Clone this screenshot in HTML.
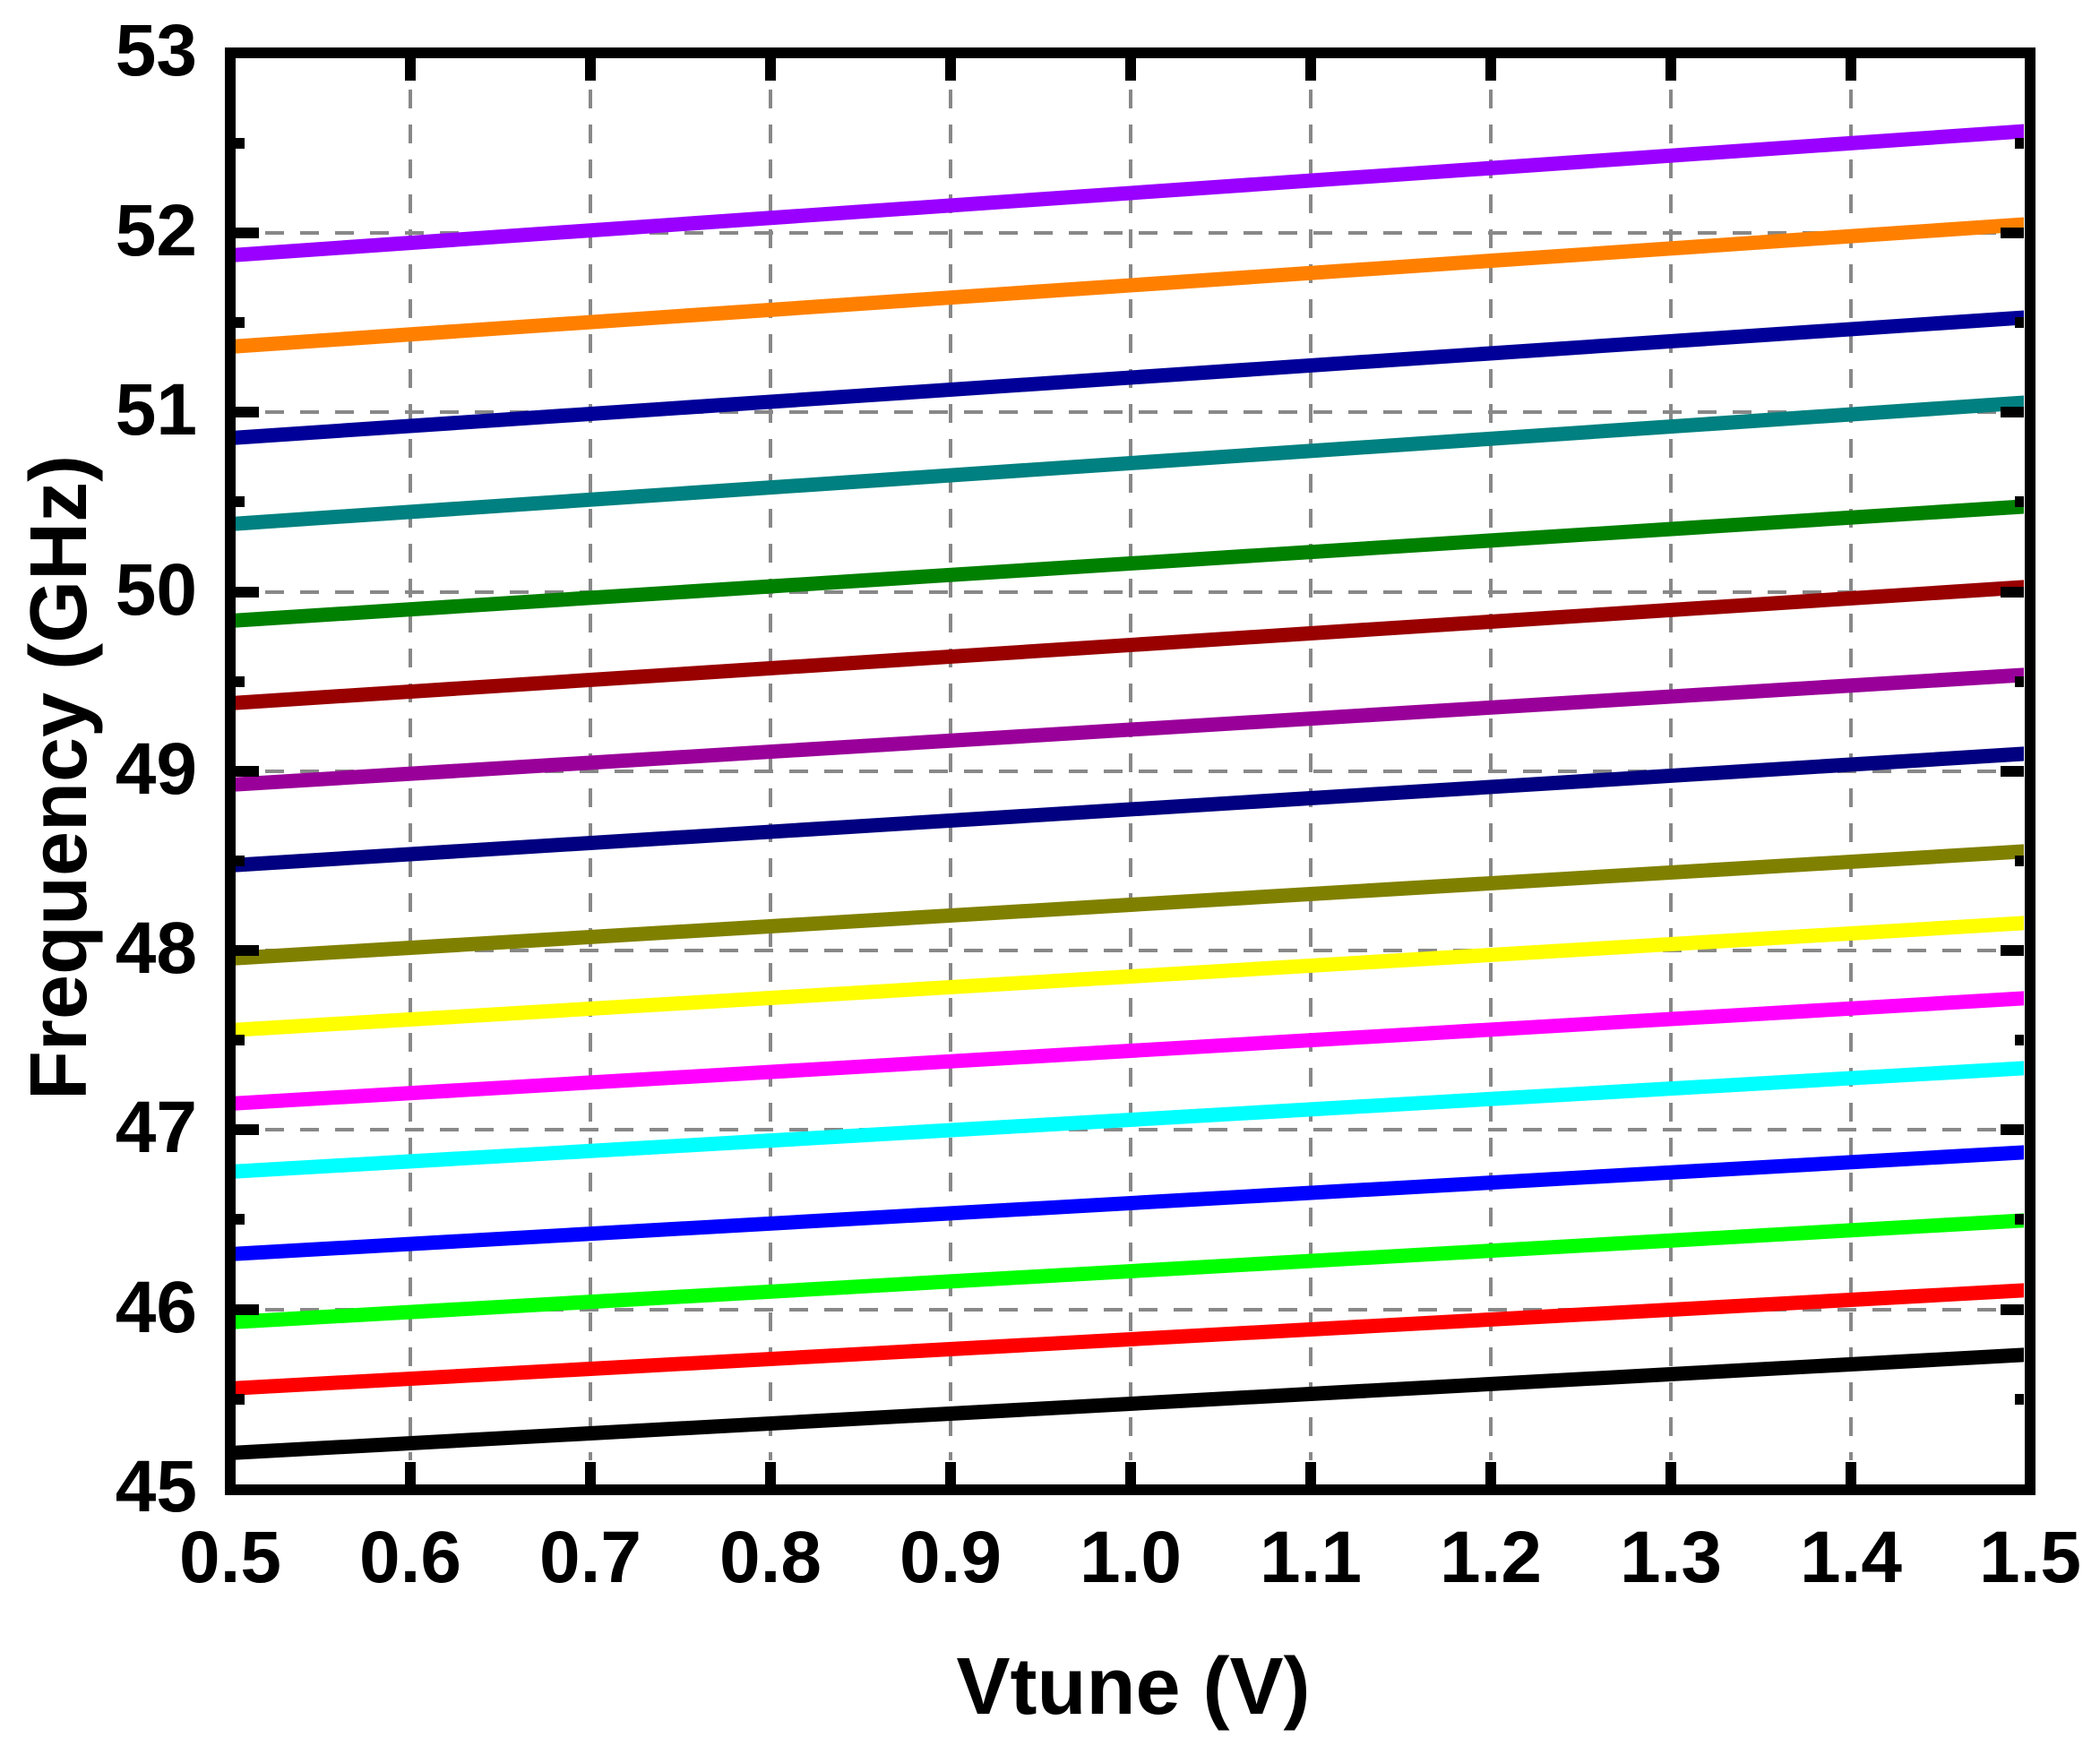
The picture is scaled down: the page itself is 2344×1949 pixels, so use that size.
<!DOCTYPE html>
<html><head><meta charset="utf-8"><style>
html,body{margin:0;padding:0;background:#fff;}
svg{display:block;}
text{font-family:"Liberation Sans",Arial,sans-serif;font-weight:bold;fill:#000;}
</style></head><body>
<svg width="2344" height="1949" viewBox="0 0 2344 1949" xmlns="http://www.w3.org/2000/svg">
<defs><clipPath id="c"><rect x="263" y="65" width="1996" height="1592"/></clipPath></defs>
<g stroke="#888" stroke-width="4" stroke-dasharray="21,18">
<line x1="458" y1="100" x2="458" y2="1630"/><line x1="659" y1="100" x2="659" y2="1630"/><line x1="860" y1="100" x2="860" y2="1630"/><line x1="1061" y1="100" x2="1061" y2="1630"/><line x1="1262" y1="100" x2="1262" y2="1630"/><line x1="1463" y1="100" x2="1463" y2="1630"/><line x1="1664" y1="100" x2="1664" y2="1630"/><line x1="1865" y1="100" x2="1865" y2="1630"/><line x1="2066" y1="100" x2="2066" y2="1630"/>
<line x1="296" y1="260" x2="2230" y2="260"/><line x1="296" y1="460" x2="2230" y2="460"/><line x1="296" y1="661" x2="2230" y2="661"/><line x1="296" y1="861" x2="2230" y2="861"/><line x1="296" y1="1061" x2="2230" y2="1061"/><line x1="296" y1="1261" x2="2230" y2="1261"/><line x1="296" y1="1462" x2="2230" y2="1462"/>
</g>
<g clip-path="url(#c)" stroke-width="16" fill="none">
<line x1="257" y1="285" x2="2266" y2="146" stroke="#9900ff"/>
<line x1="257" y1="387" x2="2266" y2="250" stroke="#ff8000"/>
<line x1="257" y1="489" x2="2266" y2="354" stroke="#000099"/>
<line x1="257" y1="585" x2="2266" y2="449" stroke="#008080"/>
<line x1="257" y1="693" x2="2266" y2="565" stroke="#008000"/>
<line x1="257" y1="785" x2="2266" y2="655" stroke="#990000"/>
<line x1="257" y1="876" x2="2266" y2="753" stroke="#990099"/>
<line x1="257" y1="966" x2="2266" y2="841" stroke="#000080"/>
<line x1="257" y1="1070" x2="2266" y2="950" stroke="#808000"/>
<line x1="257" y1="1150" x2="2266" y2="1030" stroke="#ffff00"/>
<line x1="257" y1="1232" x2="2266" y2="1114" stroke="#ff00ff"/>
<line x1="257" y1="1308" x2="2266" y2="1192" stroke="#00ffff"/>
<line x1="257" y1="1400" x2="2266" y2="1286" stroke="#0000ff"/>
<line x1="257" y1="1476" x2="2266" y2="1362" stroke="#00ff00"/>
<line x1="257" y1="1550" x2="2266" y2="1440" stroke="#ff0000"/>
<line x1="257" y1="1622" x2="2266" y2="1512" stroke="#000000"/>
</g>
<g stroke="#000" stroke-width="12">
<path d="M458 65v25M659 65v25M860 65v25M1061 65v25M1262 65v25M1463 65v25M1664 65v25M1865 65v25M2066 65v25"/>
<path d="M458 1657v-25M659 1657v-25M860 1657v-25M1061 1657v-25M1262 1657v-25M1463 1657v-25M1664 1657v-25M1865 1657v-25M2066 1657v-25"/>
<path d="M263 260h26M263 460h26M263 661h26M263 861h26M263 1061h26M263 1261h26M263 1462h26"/>
<path d="M263 160h10M263 360h10M263 560h10M263 761h10M263 961h10M263 1161h10M263 1361h10M263 1562h10"/>
<path d="M2259 260h-26M2259 460h-26M2259 661h-26M2259 861h-26M2259 1061h-26M2259 1261h-26M2259 1462h-26"/>
<path d="M2259 160h-10M2259 360h-10M2259 560h-10M2259 761h-10M2259 961h-10M2259 1161h-10M2259 1361h-10M2259 1562h-10"/>
</g>
<rect x="257" y="59" width="2009" height="1604" fill="none" stroke="#000" stroke-width="12"/>
<g font-size="82" text-anchor="end">
<text x="220" y="84">53</text><text x="220" y="285">52</text><text x="220" y="485">51</text><text x="220" y="686">50</text><text x="220" y="886">49</text><text x="220" y="1086">48</text><text x="220" y="1286">47</text><text x="220" y="1487">46</text><text x="220" y="1687">45</text>
</g>
<g font-size="82" text-anchor="middle">
<text x="257" y="1766">0.5</text><text x="458" y="1766">0.6</text><text x="659" y="1766">0.7</text><text x="860" y="1766">0.8</text><text x="1061" y="1766">0.9</text><text x="1262" y="1766">1.0</text><text x="1463" y="1766">1.1</text><text x="1664" y="1766">1.2</text><text x="1865" y="1766">1.3</text><text x="2066" y="1766">1.4</text><text x="2266" y="1766">1.5</text>
</g>
<text x="1265" y="1913" font-size="90" text-anchor="middle">Vtune (V)</text>
<text transform="translate(96,868) rotate(-90)" font-size="90" text-anchor="middle">Frequency (GHz)</text>
</svg>
</body></html>
